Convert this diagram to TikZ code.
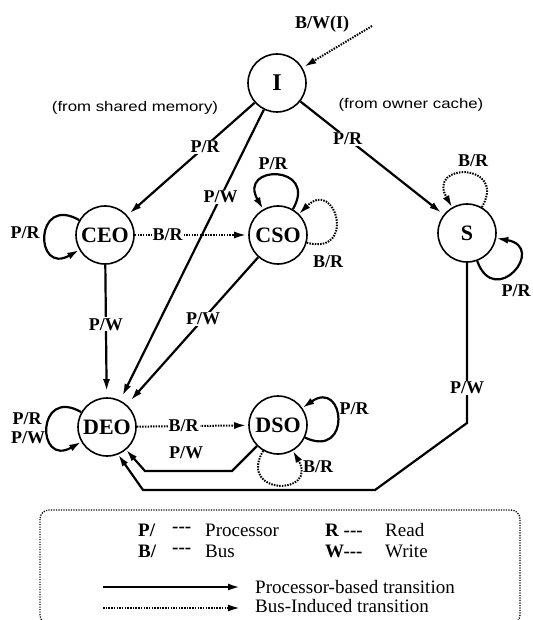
\documentclass[tikz,border=0pt]{standalone}
\usepackage{fontspec}
\setmainfont{Liberation Serif}
\newfontfamily\labsans{Liberation Sans}
\usetikzlibrary{arrows.meta}
\begin{document}
\begin{tikzpicture}[x=1pt,y=1pt,
  state/.style={circle,draw,line width=1.6pt,minimum size=58pt,inner sep=0pt,font=\fontsize{22}{22}\selectfont\bfseries},
  lab/.style={font=\fontsize{18}{18}\selectfont\bfseries,inner sep=1pt},
  onl/.style={lab,fill=white},
  sanslab/.style={font=\labsans\fontsize{14}{14}\selectfont,xscale=1.2,inner sep=0pt},
  legtxt/.style={font=\fontsize{19}{19}\selectfont,inner sep=0pt,anchor=west},
  legbold/.style={font=\fontsize{19}{19}\selectfont\bfseries,inner sep=0pt,anchor=west},
  tip/.style={-{Latex[length=12pt,width=7pt]}},
  pt/.style={line width=2.2pt,tip},
  bt/.style={line width=2pt,dash pattern=on 1.5pt off 1.2pt,tip},
  sl/.style={distance=52pt},
]
\useasboundingbox (0,0) rectangle (532,-620);

% states
\node[state,font=\fontsize{24}{24}\selectfont\bfseries] (I) at (277,-83) {I};
\node[state] (CEO) at (105,-235) {CEO};
\node[state] (CSO) at (278,-235) {CSO};
\node[state] (S) at (467,-233) {S};
\node[state] (DEO) at (107,-427) {DEO};
\node[state] (DSO) at (278,-425) {DSO};

% incoming bus write
\coordinate (bwstart) at (372,-26);
\draw[bt,shorten >=2pt] (bwstart) -- (I);
\node[lab] (bwlab) at (322,-24) {B/W(I)};

% side notes
\node[sanslab] (shm) at (135,-108) {(from shared memory)};
\node[sanslab] (own) at (411,-105) {(from owner cache)};

% transitions from I
\draw[pt,shorten >=3pt] (I) -- node[onl,pos=0.39] {P/R} (CEO);
\draw[pt,shorten >=5pt] (I) -- node[onl,pos=0.30] {P/W} (DEO);
\draw[pt,shorten >=3pt] (I) -- node[onl,pos=0.33] {P/R} (S);

% CEO
\draw[bt,shorten >=2pt] (CEO) -- node[onl,pos=0.29] {B/R} (CSO);
\draw[pt,shorten >=6pt] (CEO) -- node[onl,pos=0.45] {P/W} (DEO);
\draw[pt] (CEO) to[out=150,in=210,sl] (CEO);
\node[lab] (ceolab) at (25,-233) {P/R};

% CSO
\draw[pt,shorten >=6pt] (CSO) -- node[onl,pos=0.42] {P/W} (DEO);
\draw[pt] (CSO) to[out=60,in=120,sl] (CSO);
\node[lab] (csolab1) at (273,-164) {P/R};
\draw[bt] (CSO) to[out=-15,in=45,sl] (CSO);
\node[lab] (csolab2) at (328,-262) {B/R};

% S
\draw[bt] (S) to[out=60,in=120,sl] (S);
\node[lab] (slab1) at (473,-161) {B/R};
\draw[pt] (S) to[out=-70,in=-10,sl] (S);
\node[lab] (slab2) at (516,-291) {P/R};
\coordinate (sw1) at (467,-423);
\coordinate (sw2) at (375,-490);
\coordinate (sw3) at (143,-490);
\draw[pt] (S.south) -- node[onl,pos=0.78] {P/W} (sw1) -- (sw2) -- (sw3) -- (DEO.-68);

% DEO
\draw[bt,shorten >=2pt] (DEO) -- node[onl,pos=0.42] {B/R} (DSO);
\draw[pt] (DEO) to[out=150,in=210,sl] (DEO);
\node[lab] (deolab1) at (27,-419) {P/R};
\node[lab] (deolab2) at (28,-438) {P/W};

% DSO
\coordinate (dw1) at (232,-471);
\coordinate (dw2) at (145,-471);
\draw[pt] (DSO.225) -- (dw1) -- (dw2) -- (DEO.-50);
\node[lab] (dsowlab) at (186,-453) {P/W};
\draw[pt] (DSO) to[out=-25,in=35,sl] (DSO);
\node[lab] (dsolab1) at (354,-409) {P/R};
\draw[bt] (DSO) to[out=-120,in=-60,sl] (DSO);
\node[lab] (dsolab2) at (318,-467) {B/R};

% legend
\draw[line width=1.3pt,dash pattern=on 1.2pt off 1.3pt,rounded corners=9pt] (40,-510) rectangle (520,-624);
\node[legbold] (lp) at (138,-530) {P/};
\node[legbold] (ld1) at (172,-530) {-{}-{}-};
\node[legtxt] (lproc) at (205,-530) {Processor};
\node[legbold] (lb) at (138,-551) {B/};
\node[legbold] (ld2) at (172,-551) {-{}-{}-};
\node[legtxt] (lbus) at (205,-551) {Bus};
\node[legbold] (lr) at (325,-530) {R -{}-{}-};
\node[legtxt] (lread) at (385,-530) {Read};
\node[legbold] (lw) at (325,-551) {W-{}-{}-};
\node[legtxt] (lwrite) at (385,-551) {Write};
\coordinate (la1) at (103,-587);
\coordinate (la2) at (240,-587);
\draw[pt] (la1) -- (la2);
\node[legtxt] (lpt) at (255,-587) {Processor-based transition};
\coordinate (lb1) at (103,-608);
\coordinate (lb2) at (240,-608);
\draw[bt] (lb1) -- (lb2);
\node[legtxt] (lbt) at (255,-606) {Bus-Induced transition};
\end{tikzpicture}
\end{document}
